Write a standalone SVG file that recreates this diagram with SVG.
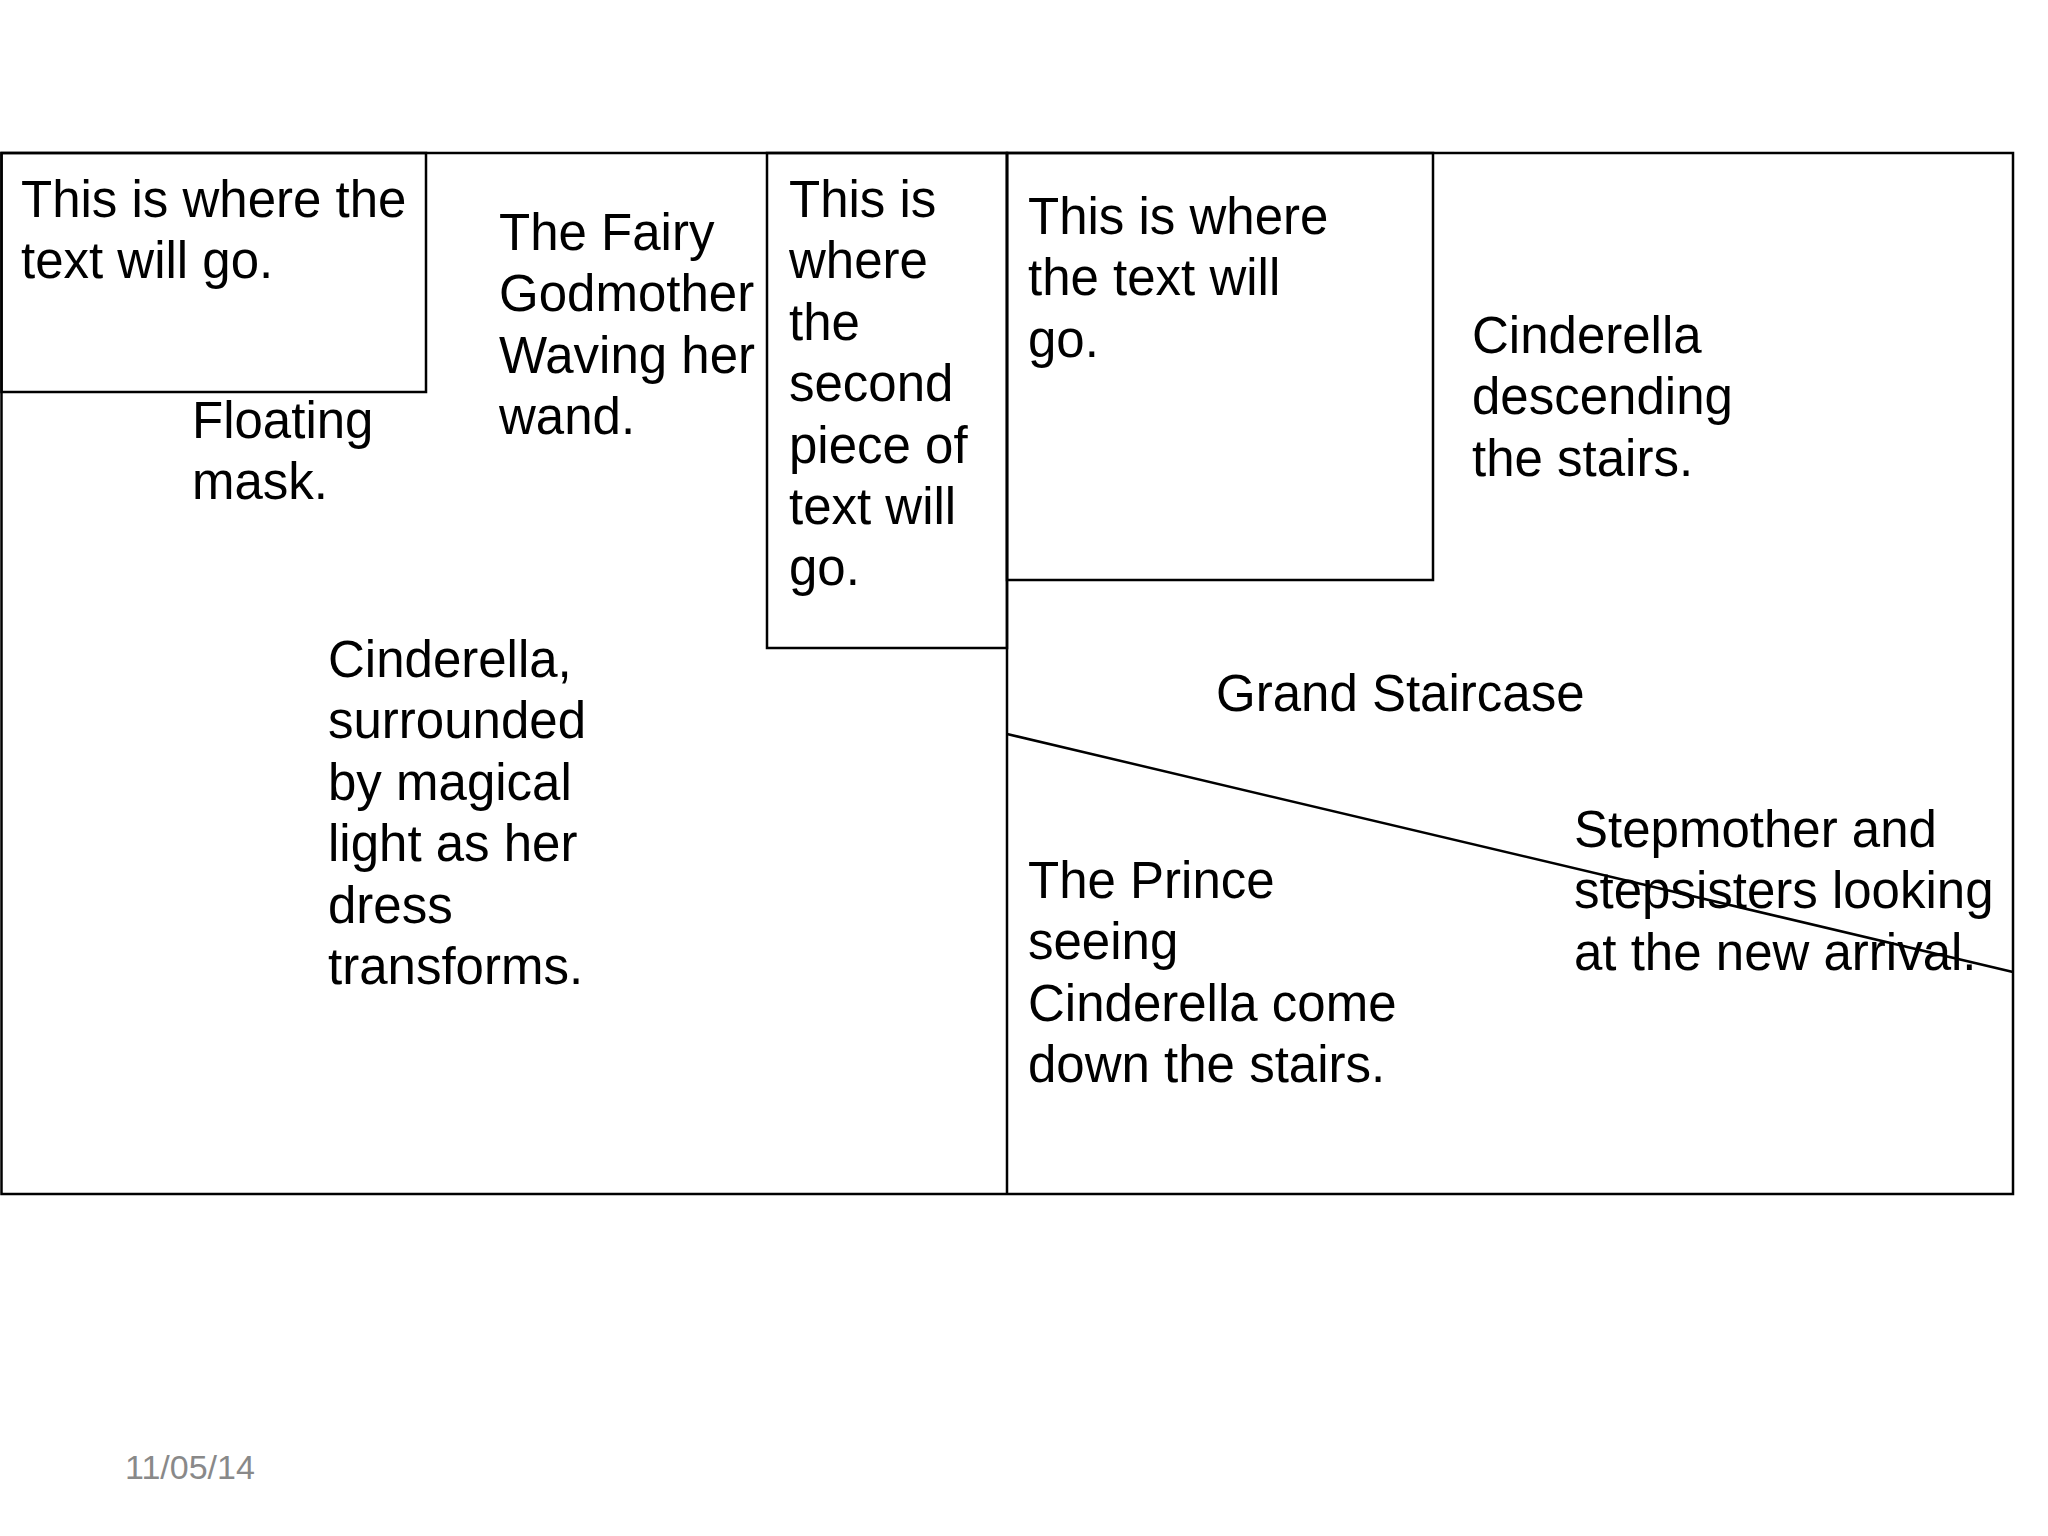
<svg xmlns="http://www.w3.org/2000/svg" width="2048" height="1536" viewBox="0 0 2048 1536">
<style>
.b{fill:none;stroke:#000;stroke-width:2.5}
.t{font-family:"Liberation Sans",Arial,sans-serif;font-size:51px;fill:#000}
.d{font-family:"Liberation Sans",Arial,sans-serif;font-size:34px;fill:#898989}
</style>
<rect width="2048" height="1536" fill="#fff"/>
<g id="frame">
<rect class="b" x="1.5" y="153" width="2011.5" height="1041"/>
<line class="b" x1="1007" y1="153" x2="1007" y2="1194"/>
</g>
<g id="box1">
<rect class="b" x="1.5" y="153" width="424.5" height="239"/>
<text class="t" x="21" y="217"><tspan x="21">This is where the</tspan><tspan x="21" dy="61.4">text will go.</tspan></text>
</g>
<g id="fairy">
<text class="t" x="499" y="250"><tspan x="499">The Fairy</tspan><tspan x="499" dy="61.4">Godmother</tspan><tspan x="499" dy="61.4">Waving her</tspan><tspan x="499" dy="61.4">wand.</tspan></text>
</g>
<g id="mask">
<text class="t" x="192" y="438"><tspan x="192">Floating</tspan><tspan x="192" dy="61.4">mask.</tspan></text>
</g>
<g id="box2">
<rect class="b" x="767" y="153" width="240" height="495"/>
<text class="t" x="789" y="217"><tspan x="789">This is</tspan><tspan x="789" dy="61.4">where</tspan><tspan x="789" dy="61.4">the</tspan><tspan x="789" dy="61.4">second</tspan><tspan x="789" dy="61.4">piece of</tspan><tspan x="789" dy="61.4">text will</tspan><tspan x="789" dy="61.4">go.</tspan></text>
</g>
<g id="box3">
<rect class="b" x="1007" y="153" width="426" height="427"/>
<text class="t" x="1028" y="234"><tspan x="1028">This is where</tspan><tspan x="1028" dy="61.4">the text will</tspan><tspan x="1028" dy="61.4">go.</tspan></text>
</g>
<g id="descending">
<text class="t" x="1472" y="353"><tspan x="1472">Cinderella</tspan><tspan x="1472" dy="61.4">descending</tspan><tspan x="1472" dy="61.4">the stairs.</tspan></text>
</g>
<g id="transform">
<text class="t" x="328" y="677"><tspan x="328">Cinderella,</tspan><tspan x="328" dy="61.4">surrounded</tspan><tspan x="328" dy="61.4">by magical</tspan><tspan x="328" dy="61.4">light as her</tspan><tspan x="328" dy="61.4">dress</tspan><tspan x="328" dy="61.4">transforms.</tspan></text>
</g>
<g id="staircase">
<text class="t" x="1216" y="711">Grand Staircase</text>
</g>
<g id="connectors">
<line class="b" x1="1007" y1="734" x2="2013" y2="972"/>
</g>
<g id="prince">
<text class="t" x="1028" y="898"><tspan x="1028">The Prince</tspan><tspan x="1028" dy="61.4">seeing</tspan><tspan x="1028" dy="61.4">Cinderella come</tspan><tspan x="1028" dy="61.4">down the stairs.</tspan></text>
</g>
<g id="stepmother">
<text class="t" x="1574" y="847"><tspan x="1574">Stepmother and</tspan><tspan x="1574" dy="61.4">stepsisters looking</tspan><tspan x="1574" dy="61.4">at the new arrival.</tspan></text>
</g>
<g id="date">
<text class="d" x="125" y="1479">11/05/14</text>
</g>
</svg>
